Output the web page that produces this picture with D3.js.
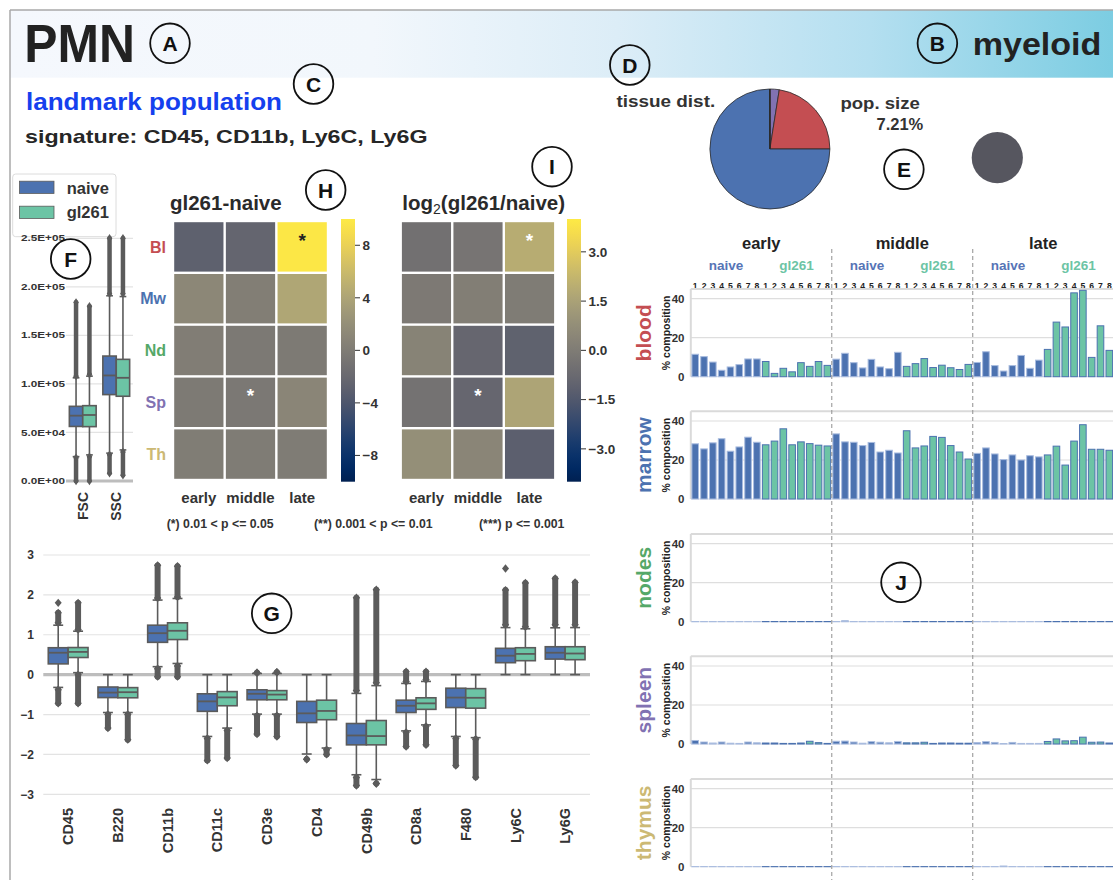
<!DOCTYPE html>
<html><head><meta charset="utf-8">
<script src="https://cdn.jsdelivr.net/npm/d3@7"></script>
<style>
body{margin:0;background:#fff}
svg{display:block}
text{font-family:"Liberation Sans",Arial,Helvetica,sans-serif;font-weight:bold;fill:#262626}
</style>
</head><body>
<svg id="c" width="1113" height="880"></svg>
<script>
// ---------------- DATA ----------------
const populationName = "PMN";
const lineageName = "myeloid";
const signatureMarkers = ["CD45", "CD11b", "Ly6C", "Ly6G"];
const popSizeLabel = "7.21%";
const conditions = ["naive", "gl261"];
const conditionColors = ["#4c72b0", "#6cc4a5"];
const timepoints = ["early", "middle", "late"];
const replicateLabels = ["1", "2", "3", "4", "5", "6", "7", "8"];
const tissues = ["blood", "marrow", "nodes", "spleen", "thymus"];
const tissueAbbr = ["Bl", "Mw", "Nd", "Sp", "Th"];
const tissueColors = ["#c44e52", "#4c72b0", "#55a868", "#8172b2", "#ccb974"];

// % composition per tissue: early naive 1-8, early gl261 1-8, middle naive..., late gl261
const bloodPct = [11.5, 10.3, 7.5, 3.3, 5.0, 6.2, 9.1, 9.1,  7.8, 1.7, 4.3, 2.5, 7.2, 5.3, 7.8, 5.8,
                  9.0, 12.0, 7.2, 4.5, 8.9, 5.0, 4.1, 12.5,  5.3, 6.7, 9.3, 4.7, 5.9, 4.6, 3.7, 6.3,
                  7.3, 12.8, 5.7, 2.9, 5.7, 10.9, 4.3, 8.5,  14.0, 28.0, 25.5, 43.0, 44.3, 9.9, 26.1, 13.5];
const marrowPct = [28.3, 25.7, 28.8, 30.9, 24.5, 26.7, 31.7, 29.1,  27.8, 29.7, 36.0, 27.8, 29.3, 28.4, 27.6, 27.2,
                   33.4, 29.3, 29.1, 27.4, 29.0, 24.1, 25.0, 23.6,  35.0, 26.2, 27.2, 32.1, 31.6, 27.4, 24.1, 20.5,
                   23.4, 26.2, 23.1, 20.2, 22.6, 20.0, 22.2, 21.6,  22.6, 27.1, 17.4, 29.7, 38.1, 25.5, 25.5, 25.0];
const nodesPct = [0.1, 0.1, 0.1, 0.1, 0.1, 0.1, 0.1, 0.1,  0.1, 0.1, 0.1, 0.1, 0.1, 0.1, 0.1, 0.1,
                  0.1, 0.5, 0.1, 0.1, 0.1, 0.1, 0.1, 0.1,  0.1, 0.1, 0.1, 0.1, 0.1, 0.1, 0.1, 0.1,
                  0.1, 0.1, 0.1, 0.1, 0.1, 0.1, 0.1, 0.1,  0.1, 0.1, 0.1, 0.1, 0.1, 0.1, 0.1, 0.1];
const spleenPct = [1.8, 1.0, 0.5, 1.0, 0.4, 0.3, 1.0, 0.6,  0.5, 0.5, 0.3, 0.3, 0.5, 1.4, 0.7, 0.3,
                   1.4, 1.5, 1.0, 0.4, 1.2, 0.9, 0.6, 1.3,  0.6, 0.6, 0.9, 0.3, 0.5, 0.5, 0.4, 0.4,
                   0.7, 1.2, 0.8, 0.2, 0.8, 0.3, 0.3, 0.3,  1.3, 2.6, 1.6, 1.7, 3.5, 0.9, 1.0, 0.5];
const thymusPct = [0.05, 0.05, 0.05, 0.05, 0.05, 0.05, 0.05, 0.05,  0.05, 0.05, 0.05, 0.05, 0.05, 0.05, 0.05, 0.05,
                   0.05, 0.05, 0.05, 0.05, 0.05, 0.05, 0.05, 0.05,  0.05, 0.05, 0.05, 0.05, 0.05, 0.05, 0.05, 0.05,
                   0.05, 0.05, 0.05, 0.35, 0.05, 0.05, 0.05, 0.05,  0.05, 0.05, 0.05, 0.05, 0.05, 0.05, 0.05, 0.05];
const barYTicks = [0, 20, 40];

// heatmaps (rows = tissues, cols = timepoints)
const heatDiff = [[-2.8, -2.4, 9.8], [1.2, 0.3, 4.2], [0.2, -0.3, -0.2], [-0.2, -0.4, 1.0], [0.1, 0.0, 0.0]];
const heatDiffSig = [["", "", "*"], ["", "", ""], ["", "", ""], ["", "*", ""], ["", "", ""]];
const heatLog2 = [[-0.5, -0.3, 1.9], [-0.1, 0.1, 0.0], [0.3, -0.9, -1.1], [-0.4, -0.9, 1.6], [0.8, 0.4, -1.2]];
const heatLog2Sig = [["", "", "*"], ["", "", ""], ["", "", ""], ["", "*", ""], ["", "", ""]];
const diffTicks = [8, 4, 0, -4, -8];
const log2Ticks = [3, 1.5, 0, -1.5, -3];
const sigLegend = ["(*) 0.01 < p <= 0.05", "(**) 0.001 < p <= 0.01", "(***) p <= 0.001"];

// tissue distribution pie (clockwise from 12 o'clock)
const pieTissues = ["Sp", "Bl", "Mw", "Nd", "Th"];
const pieValues = [2.5, 22.5, 74.9, 0.1, 0.0];

// scatter boxplots: [q1, median, q3, whiskerLow, whiskerHigh, outLowMin, outLowMax, outHighMin, outHighMax]
const scatterChannels = ["FSC", "SSC"];
const scatterNaive = [[56200, 67300, 76900, 25100, 106300, 0, 24000, 108000, 184000],
                      [89000, 108700, 128700, 28700, 190800, 8000, 27000, 193000, 250000]];
const scatterGl261 = [[56000, 68000, 77600, 26900, 108000, 0, 25000, 110000, 180000],
                      [87300, 106300, 125300, 32000, 190000, 6000, 30000, 193000, 250000]];
const scatterTicks = [0, 50000, 100000, 150000, 200000, 250000];

// marker expression boxplots
const markers = ["CD45", "B220", "CD11b", "CD11c", "CD3e", "CD4", "CD49b", "CD8a", "F480", "Ly6C", "Ly6G"];
const markerNaive = [
  [0.27, 0.55, 0.675, -0.32, 1.24, -0.72, -0.38, 1.3, 1.55],
  [-0.575, -0.45, -0.31, -0.95, 0.0, -1.34, -1.0, null, null],
  [0.81, 1.04, 1.24, 0.2, 1.87, -0.05, 0.15, 1.92, 2.74],
  [-0.92, -0.67, -0.48, -1.55, 0.0, -2.15, -1.6, null, null],
  [-0.63, -0.48, -0.38, -0.99, 0.03, -1.49, -1.03, 0.05, 0.05],
  [-1.2, -0.97, -0.67, -1.99, 0.0, -2.12, -2.12, null, null],
  [-1.76, -1.525, -1.225, -2.51, -0.47, -2.78, -2.58, -0.4, 1.93],
  [-0.95, -0.78, -0.64, -1.41, -0.22, -1.8, -1.45, -0.17, 0.075],
  [-0.825, -0.575, -0.34, -1.55, 0.0, -2.28, -1.6, null, null],
  [0.3, 0.475, 0.66, 0.0, 1.18, null, null, 1.25, 2.12],
  [0.39, 0.55, 0.7, 0.0, 1.175, null, null, 1.25, 2.41]];
const markerGl261 = [
  [0.43, 0.57, 0.68, 0.05, 1.09, -0.72, 0.0, 1.13, 1.8],
  [-0.58, -0.44, -0.325, -0.95, 0.0, -1.63, -1.0, null, null],
  [0.88, 1.1, 1.3, 0.28, 1.91, -0.05, 0.22, 1.95, 2.72],
  [-0.78, -0.57, -0.425, -1.34, 0.0, -2.09, -1.4, null, null],
  [-0.63, -0.5, -0.4, -0.99, 0.03, -1.55, -1.03, 0.06, 0.06],
  [-1.13, -0.91, -0.64, -1.84, 0.0, -2.0, -1.88, null, null],
  [-1.76, -1.54, -1.15, -2.63, -0.275, -2.73, -2.73, -0.2, 2.13],
  [-0.87, -0.72, -0.58, -1.26, -0.17, -1.76, -1.3, -0.12, 0.075],
  [-0.84, -0.58, -0.35, -1.58, 0.0, -2.57, -1.62, null, null],
  [0.35, 0.52, 0.675, 0.0, 1.15, null, null, 1.2, 2.3],
  [0.375, 0.53, 0.7, 0.0, 1.18, null, null, 1.25, 2.31]];
const markerExtraPoints = [["CD45", 0, 1.8], ["Ly6C", 0, 2.66]];
const markerTicks = [3, 2, 1, 0, -1, -2, -3];

// panel annotation letters
const annotLetters = ["A", "B", "C", "D", "E", "F", "G", "H", "I", "J"];

// ---------------- DRAW ----------------
const svg = d3.select("#c");
const W = 1113, H = 880;
const gray = "#5b5b5b";
const defs = svg.append("defs");

// header band
const hg = defs.append("linearGradient").attr("id", "hdr").attr("x1", 0).attr("x2", 1).attr("y1", 0).attr("y2", 0);
[[0, "#f5f8fd"], [0.33, "#f2f7fc"], [0.55, "#dcedf7"], [0.78, "#b4dff0"], [1, "#7ccde2"]].forEach(s =>
  hg.append("stop").attr("offset", s[0]).attr("stop-color", s[1]));
svg.append("rect").attr("x", 10).attr("y", 10).attr("width", W - 10).attr("height", 67.7).attr("fill", "url(#hdr)");
svg.append("line").attr("x1", 10).attr("x2", W).attr("y1", 10).attr("y2", 10).attr("stroke", "#a8a8a8").attr("stroke-width", 1.5);
svg.append("line").attr("x1", 10).attr("x2", 10).attr("y1", 10).attr("y2", H).attr("stroke", "#a8a8a8").attr("stroke-width", 1.5);

svg.append("text").attr("x", 24.3).attr("y", 61.7).attr("font-size", 53).attr("textLength", 110.7)
  .attr("lengthAdjust", "spacingAndGlyphs").style("fill", "#222").text(populationName);
svg.append("text").attr("x", 972.7).attr("y", 55).attr("font-size", 32).attr("textLength", 128.7)
  .attr("lengthAdjust", "spacingAndGlyphs").style("fill", "#222").text(lineageName);
svg.append("text").attr("x", 26).attr("y", 110).attr("font-size", 24).attr("textLength", 256)
  .attr("lengthAdjust", "spacingAndGlyphs").style("fill", "#1540ee").text("landmark population");
svg.append("text").attr("x", 25).attr("y", 143.3).attr("font-size", 18.6).attr("textLength", 402.5)
  .attr("lengthAdjust", "spacingAndGlyphs").style("fill", "#262626").text("signature: " + signatureMarkers.join(", "));

// pie
svg.append("text").attr("x", 616.4).attr("y", 106.7).attr("font-size", 17).attr("textLength", 98.8)
  .attr("lengthAdjust", "spacingAndGlyphs").style("fill", "#333").text("tissue dist.");
const pie = d3.pie().sort(null).value(d => d)(pieValues);
const arc = d3.arc().innerRadius(0).outerRadius(60);
const pg = svg.append("g").attr("transform", "translate(769.9,149)");
pg.selectAll("path").data(pie).join("path").attr("d", arc)
  .attr("fill", (d, i) => tissueColors[tissueAbbr.indexOf(pieTissues[i])])
  .attr("stroke", "#2a2a2a").attr("stroke-width", 0.8);

svg.append("text").attr("x", 840.4).attr("y", 109).attr("font-size", 17).attr("textLength", 79.4)
  .attr("lengthAdjust", "spacingAndGlyphs").style("fill", "#333").text("pop. size");
svg.append("text").attr("x", 923.3).attr("y", 130).attr("text-anchor", "end").attr("font-size", 16.5).style("fill", "#333").text(popSizeLabel);
svg.append("circle").attr("cx", 997.3).attr("cy", 157.7).attr("r", 25.6).attr("fill", "#56565f");

// legend
const lg = svg.append("g");
lg.append("rect").attr("x", 12.7).attr("y", 174).attr("width", 103.3).attr("height", 62.7).attr("rx", 3)
  .attr("fill", "#fff").attr("stroke", "#dcdcdc");
conditions.forEach((c, i) => {
  lg.append("rect").attr("x", 19.5).attr("y", 181.2 + i * 25).attr("width", 34.5).attr("height", 12.2)
    .attr("fill", conditionColors[i]).attr("stroke", gray).attr("stroke-width", 0.8);
  lg.append("text").attr("x", 66.7).attr("y", 193.8 + i * 24).attr("font-size", 16.5).style("fill", "#333").text(c);
});

// ---------- generic box drawer ----------
function drawBox(g, cx, w, s, y, color) {
  const [q1, med, q3, wlo, whi, olo0, olo1, ohi0, ohi1] = s;
  const cap = w * 0.5;
  const outW = Math.max(4.5, w * 0.3);
  function outl(a, b) {
    if (a === null) return;
    g.append("line").attr("x1", cx).attr("x2", cx).attr("y1", y(a)).attr("y2", y(b))
      .attr("stroke", gray).attr("stroke-width", outW).attr("stroke-linecap", "round");
    [a, b].forEach(v => g.append("path")
      .attr("d", `M${cx},${y(v) - 4.2}L${cx + outW * 0.62},${y(v)}L${cx},${y(v) + 4.2}L${cx - outW * 0.62},${y(v)}Z`)
      .attr("fill", gray));
  }
  outl(olo0, olo1); outl(ohi0, ohi1);
  g.append("line").attr("x1", cx).attr("x2", cx).attr("y1", y(q3)).attr("y2", y(whi)).attr("stroke", gray).attr("stroke-width", 1.6);
  g.append("line").attr("x1", cx).attr("x2", cx).attr("y1", y(q1)).attr("y2", y(wlo)).attr("stroke", gray).attr("stroke-width", 1.6);
  [wlo, whi].forEach(v => g.append("line").attr("x1", cx - cap / 2).attr("x2", cx + cap / 2)
    .attr("y1", y(v)).attr("y2", y(v)).attr("stroke", gray).attr("stroke-width", 1.6));
  g.append("rect").attr("x", cx - w / 2).attr("width", w).attr("y", y(q3)).attr("height", y(q1) - y(q3))
    .attr("fill", color).attr("stroke", gray).attr("stroke-width", 1.6);
  g.append("line").attr("x1", cx - w / 2).attr("x2", cx + w / 2).attr("y1", y(med)).attr("y2", y(med))
    .attr("stroke", gray).attr("stroke-width", 1.8);
}

// ---------- scatter (FSC/SSC) ----------
{
  const g = svg.append("g");
  const y = d3.scaleLinear().domain([0, 250000]).range([481, 238.3]);
  const x = d3.scaleBand().domain(scatterChannels).range([66, 133]);
  const fmtE = v => { const [m, e] = v.toExponential(1).split("e"); return m + "E" + (e[0] === "-" ? "-" : "+") + String(Math.abs(+e)).padStart(2, "0"); };
  scatterTicks.forEach(t => {
    g.append("line").attr("x1", 66).attr("x2", 133).attr("y1", y(t)).attr("y2", y(t))
      .attr("stroke", t === 0 ? "#bdbdbd" : "#e3e3e3").attr("stroke-width", t === 0 ? 3 : 1.2);
    g.append("text").attr("x", 65).attr("y", y(t)).attr("dy", "0.35em").attr("text-anchor", "end")
      .attr("font-size", 8.8).attr("textLength", 44).attr("lengthAdjust", "spacingAndGlyphs").style("fill", "#333").text(fmtE(t));
  });
  const bw = x.bandwidth() * 0.8 / 2;
  scatterChannels.forEach((ch, i) => {
    const c0 = x(ch) + x.bandwidth() * 0.1;
    drawBox(g, c0 + bw / 2, bw, scatterNaive[i], y, conditionColors[0]);
    drawBox(g, c0 + bw * 1.5, bw, scatterGl261[i], y, conditionColors[1]);
    g.append("text").attr("transform", `translate(${x(ch) + x.bandwidth() / 2},492) rotate(-90)`)
      .attr("text-anchor", "end").attr("dy", "0.36em").attr("font-size", 14).style("fill", "#333").text(ch);
  });
}

// ---------- heatmaps ----------
const cbarGrad = defs.append("linearGradient").attr("id", "civ").attr("x1", 0).attr("x2", 0).attr("y1", 1).attr("y2", 0);
d3.range(0, 1.0001, 0.05).forEach(t => cbarGrad.append("stop").attr("offset", t).attr("stop-color", d3.interpolateCividis(t)));

function heatmap(opt) {
  const g = svg.append("g");
  const x = d3.scaleBand().domain(timepoints).range([opt.x0, opt.x1]);
  const y = d3.scaleBand().domain(tissueAbbr).range([221, 480]);
  const c = d3.scaleSequential(d3.interpolateCividis).domain(opt.domain);
  opt.values.forEach((row, r) => row.forEach((v, k) => {
    g.append("rect").attr("x", x(timepoints[k]) + 1.2).attr("y", y(tissueAbbr[r]) + 1.2)
      .attr("width", x.bandwidth() - 2.4).attr("height", y.bandwidth() - 2.4).attr("fill", c(v));
    const s = opt.sig[r][k];
    if (s) g.append("text").attr("x", x(timepoints[k]) + x.bandwidth() / 2).attr("y", y(tissueAbbr[r]) + 26)
      .attr("text-anchor", "middle").attr("font-size", 19).style("fill", opt.starDark(r, k) ? "#222" : "#fff").text(s);
  }));
  timepoints.forEach(t => g.append("text").attr("x", x(t) + x.bandwidth() / 2).attr("y", 502.5)
    .attr("text-anchor", "middle").attr("font-size", 15).style("fill", "#333").text(t));
  // colorbar
  const cy = d3.scaleLinear().domain(opt.domain).range([481.7, 219]);
  g.append("rect").attr("x", opt.cb).attr("y", 219).attr("width", 14).attr("height", 262.7).attr("fill", "url(#civ)");
  opt.ticks.forEach(t => {
    g.append("line").attr("x1", opt.cb + 14).attr("x2", opt.cb + 19).attr("y1", cy(t)).attr("y2", cy(t)).attr("stroke", "#333").attr("stroke-width", 1);
    g.append("text").attr("x", opt.cb + 21.5).attr("y", cy(t)).attr("dy", "0.36em").attr("font-size", 13.5)
      .style("fill", "#333").text(opt.fmt(t));
  });
  return {x, y};
}
const hm1 = heatmap({x0: 173, x1: 328, values: heatDiff, sig: heatDiffSig, domain: [-10, 10], cb: 341, ticks: diffTicks,
  fmt: d3.format("d"), starDark: (r, k) => heatDiff[r][k] > 6});
heatmap({x0: 400.7, x1: 555.3, values: heatLog2, sig: heatLog2Sig, domain: [-4, 4], cb: 567, ticks: log2Ticks,
  fmt: d3.format(".1f"), starDark: (r, k) => heatLog2[r][k] > 3});
tissueAbbr.forEach((t, i) => svg.append("text").attr("x", 166).attr("y", hm1.y(t) + hm1.y.bandwidth() / 2)
  .attr("dy", "0.36em").attr("text-anchor", "end").attr("font-size", 16).style("fill", tissueColors[i]).text(t));
svg.append("text").attr("x", 170).attr("y", 210).attr("font-size", 20.5).style("fill", "#2a2a2a").text("gl261-naive");
{
  const t = svg.append("text").attr("x", 402.3).attr("y", 210).attr("font-size", 20.5).style("fill", "#2a2a2a");
  t.append("tspan").text("log");
  t.append("tspan").attr("font-size", 14).attr("font-weight", "normal").attr("dy", 4).text("2");
  t.append("tspan").attr("dy", -4).text("(gl261/naive)");
}
[[166.7, 0], [314, 1], [479, 2]].forEach(([xx, i]) => svg.append("text").attr("x", xx).attr("y", 527.5)
  .attr("font-size", 12.3).style("fill", "#333").text(sigLegend[i]));

// ---------- marker boxplots ----------
{
  const g = svg.append("g");
  const y = d3.scaleLinear().domain([-3, 3]).range([794.3, 555]);
  const x = d3.scaleBand().domain(markers).range([43.3, 590]);
  markerTicks.forEach(t => {
    g.append("line").attr("x1", 43.3).attr("x2", 590).attr("y1", y(t)).attr("y2", y(t))
      .attr("stroke", t === 0 ? "#bdbdbd" : "#e3e3e3").attr("stroke-width", t === 0 ? 3.2 : 1.2);
    g.append("text").attr("x", 34).attr("y", y(t)).attr("dy", "0.36em").attr("text-anchor", "end")
      .attr("font-size", 12).style("fill", "#333").text(d3.format("d")(t));
  });
  const bw = x.bandwidth() * 0.8 / 2;
  markers.forEach((m, i) => {
    const c0 = x(m) + x.bandwidth() * 0.1;
    drawBox(g, c0 + bw / 2, bw, markerNaive[i], y, conditionColors[0]);
    drawBox(g, c0 + bw * 1.5, bw, markerGl261[i], y, conditionColors[1]);
    g.append("text").attr("transform", `translate(${x(m) + x.bandwidth() / 2},808) rotate(-90)`)
      .attr("text-anchor", "end").attr("dy", "0.36em").attr("font-size", 14.5).style("fill", "#333").text(m);
  });
  markerExtraPoints.forEach(([m, h, v]) => {
    const cx = x(m) + x.bandwidth() * 0.1 + bw * (h + 0.5);
    g.append("path").attr("d", `M${cx},${y(v) - 4.2}L${cx + 3.5},${y(v)}L${cx},${y(v) + 4.2}L${cx - 3.5},${y(v)}Z`).attr("fill", gray);
  });
}

// ---------- composition bar panels ----------
{
  const g = svg.append("g");
  const nBars = timepoints.length * conditions.length * replicateLabels.length;
  const x = d3.scaleBand().domain(d3.range(nBars)).range([690.8, 1113.7]).paddingInner(0.25).paddingOuter(0.125);
  const step = x.step();
  const groupW = step * conditions.length * replicateLabels.length;
  const panels = [bloodPct, marrowPct, nodesPct, spleenPct, thymusPct];
  const zeros = [376.7, 499, 621.7, 744, 866.7];
  // header
  timepoints.forEach((t, ti) => {
    g.append("text").attr("x", 690.8 + groupW * (ti + 0.5)).attr("y", 248.5).attr("text-anchor", "middle")
      .attr("font-size", 16.5).style("fill", "#222").text(t);
    conditions.forEach((c, ci) => {
      g.append("text").attr("x", 690.8 + groupW * ti + step * replicateLabels.length * (ci + 0.5)).attr("y", 270)
        .attr("text-anchor", "middle").attr("font-size", 13.5).style("fill", ci === 0 ? "#5674b6" : "#6cc4a5").text(c);
      replicateLabels.forEach((r, ri) => {
        const idx = (ti * conditions.length + ci) * replicateLabels.length + ri;
        g.append("text").attr("x", x(idx) + x.bandwidth() / 2).attr("y", 289.3).attr("text-anchor", "middle")
          .attr("font-size", 8.6).style("fill", "#222").text(r);
      });
    });
  });
  panels.forEach((vals, p) => {
    const y = d3.scaleLinear().domain([0, 45]).range([zeros[p], zeros[p] - 87.75]);
    const top = y(45);
    barYTicks.forEach(t => {
      if (t > 0) g.append("line").attr("x1", 690.8).attr("x2", W).attr("y1", y(t)).attr("y2", y(t)).attr("stroke", "#dedede").attr("stroke-width", 1.2);
      g.append("text").attr("x", 684.5).attr("y", y(t)).attr("dy", "0.36em").attr("text-anchor", "end")
        .attr("font-size", 11.5).style("fill", "#333").text(t);
    });
    g.append("line").attr("x1", 690.8).attr("x2", W).attr("y1", top).attr("y2", top).attr("stroke", "#dadada").attr("stroke-width", 2);
    g.append("line").attr("x1", 690.8).attr("x2", 690.8).attr("y1", top).attr("y2", zeros[p]).attr("stroke", "#dadada").attr("stroke-width", 2);
    g.append("line").attr("x1", 690.8).attr("x2", W).attr("y1", zeros[p]).attr("y2", zeros[p]).attr("stroke", "#d4d8e4").attr("stroke-width", 1);
    vals.forEach((v, i) => {
      const ci = Math.floor(i / replicateLabels.length) % conditions.length;
      g.append("rect").attr("x", x(i)).attr("width", x.bandwidth()).attr("y", y(v)).attr("height", y(0) - y(v))
        .attr("fill", conditionColors[ci]).attr("stroke", ci === 0 ? "#a9bcdf" : "#4c72b0").attr("stroke-width", 1);
    });
    const mid = (top + zeros[p]) / 2;
    g.append("text").attr("transform", `translate(666,${mid}) rotate(-90)`).attr("text-anchor", "middle").attr("dy", "0.36em")
      .attr("font-size", 10.5).attr("font-weight", "normal").style("fill", "#222").text("% composition");
    g.append("text").attr("transform", `translate(643,${mid}) rotate(-90)`).attr("text-anchor", "middle").attr("dy", "0.36em")
      .attr("font-size", 21).style("fill", tissueColors[p]).text(tissues[p]);
  });
  [1, 2].forEach(k => g.append("line").attr("x1", 690.8 + groupW * k).attr("x2", 690.8 + groupW * k)
    .attr("y1", 249).attr("y2", H).attr("stroke", "#9a9a9a").attr("stroke-width", 1.1).attr("stroke-dasharray", "4,3"));
}

// ---------- annotation circles ----------
const annotPos = [[170, 43.3], [937.4, 43.3], [313.5, 84], [629.8, 65], [903.9, 169.3], [70.7, 259], [271.7, 613.3], [325.7, 190], [552, 166.7], [901, 582.3]];
annotLetters.forEach((l, i) => {
  const [cx, cy] = annotPos[i];
  svg.append("circle").attr("cx", cx).attr("cy", cy).attr("r", 19.8).attr("fill", "none").attr("stroke", "#111").attr("stroke-width", 1.8);
  svg.append("text").attr("x", cx).attr("y", cy).attr("dy", "0.36em").attr("text-anchor", "middle").attr("font-size", 21).style("fill", "#111").text(l);
});
</script>
</body></html>
